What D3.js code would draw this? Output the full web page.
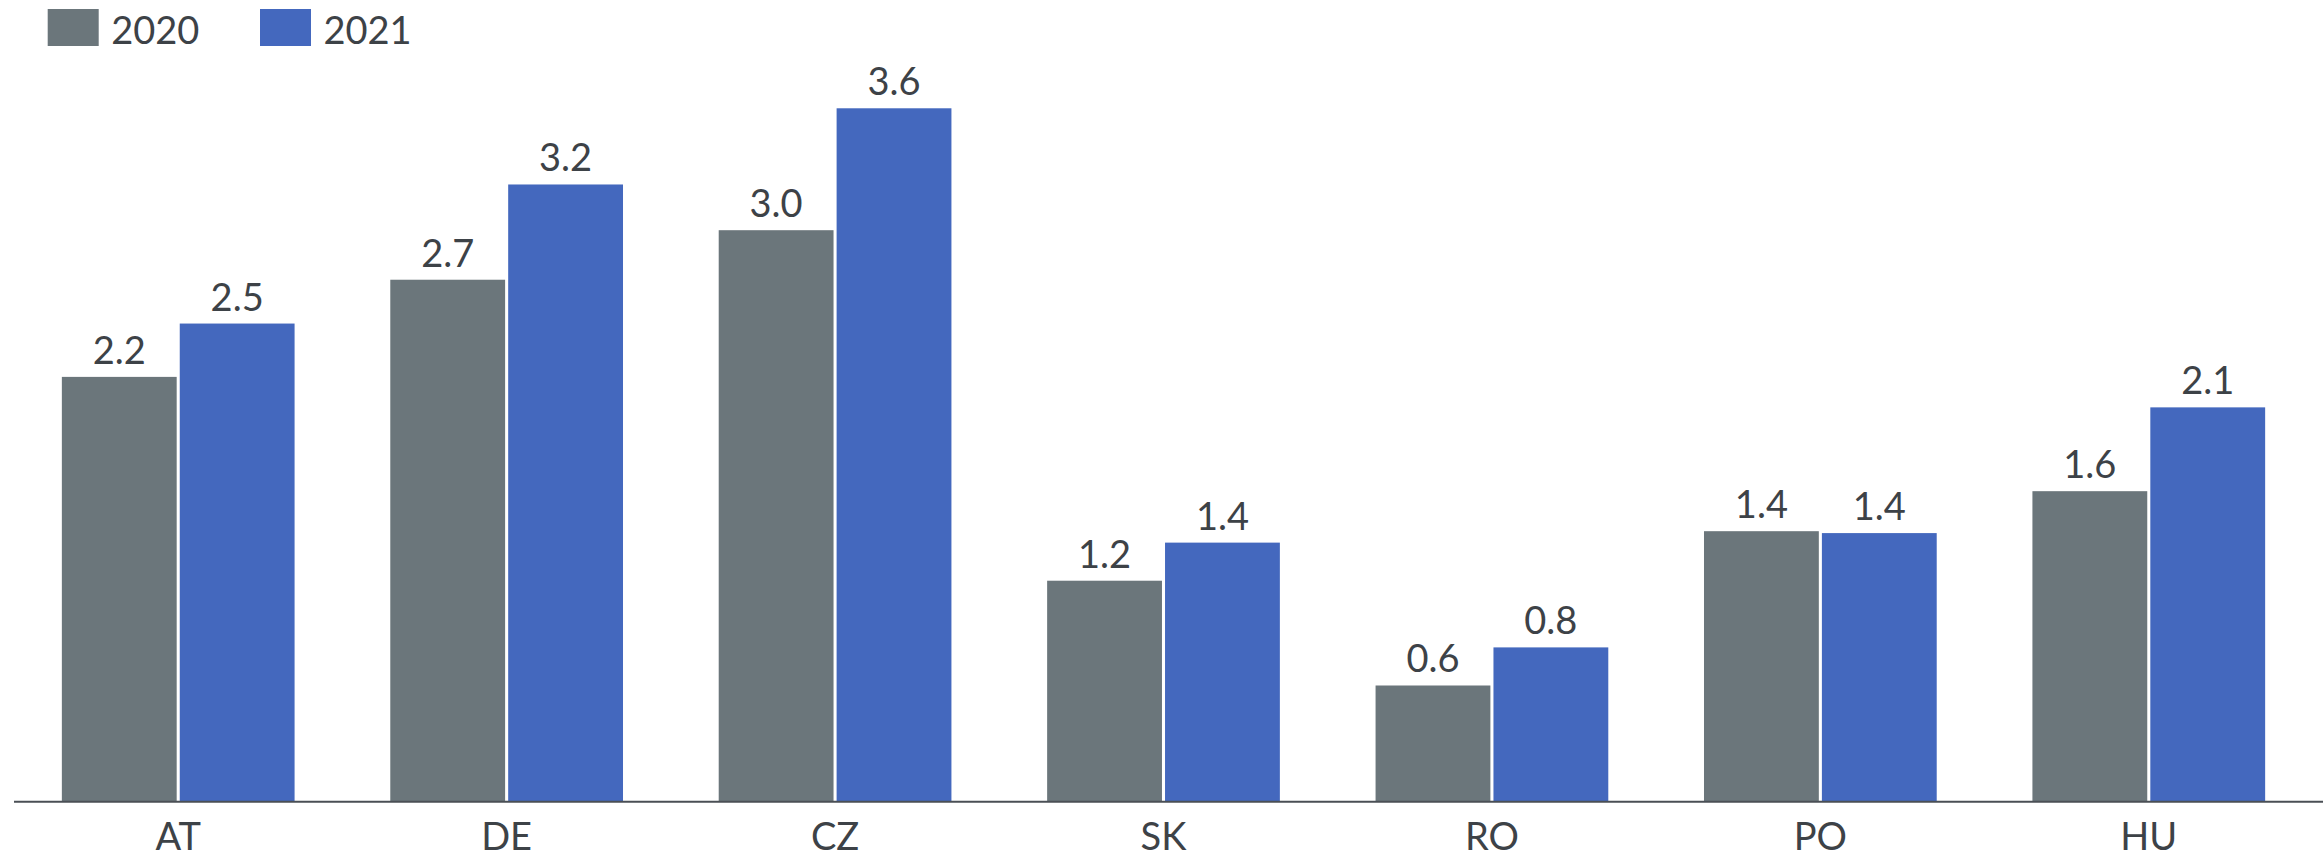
<!DOCTYPE html>
<html>
<head>
<meta charset="utf-8">
<script src="https://cdn.jsdelivr.net/npm/d3@7"></script>
<style>
  html, body { margin: 0; padding: 0; background: #ffffff; }
  svg { display: block; }
  text { font-family: Lato, "Open Sans", sans-serif; fill: #3d4247; }
</style>
</head>
<body>
<svg id="chart" width="2323" height="858"></svg>
<script>
const categories = ["AT", "DE", "CZ", "SK", "RO", "PO", "HU"];
const seriesNames = ["2020", "2021"];
const values2020 = [2.23, 2.74, 3.0, 1.16, 0.61, 1.42, 1.63];
const values2021 = [2.51, 3.24, 3.64, 1.36, 0.81, 1.41, 2.07];
const colors = ["#6b767b", "#4468be"];

const data = categories.map((c, i) => ({
  cat: c,
  vals: [
    { key: seriesNames[0], v: values2020[i] },
    { key: seriesNames[1], v: values2021[i] }
  ]
}));

const W = 2323, H = 858;
const baseY = 801.7;
const unit = 190.5;
const svg = d3.select("#chart");

const x0 = d3.scaleBand().domain(categories).range([14, 2313])
  .paddingInner(0.2914).paddingOuter(0.1457);
const x1 = d3.scaleBand().domain(seriesNames).range([0, x0.bandwidth()])
  .paddingInner(0.026).paddingOuter(0);
const y = d3.scaleLinear().domain([0, 4]).range([baseY, baseY - 4 * unit]);
const color = d3.scaleOrdinal().domain(seriesNames).range(colors);
const fmt = d3.format(".1f");

const g = svg.append("g");
const groups = g.selectAll("g.grp").data(data).join("g")
  .attr("class", "grp")
  .attr("transform", d => `translate(${x0(d.cat)},0)`);

groups.selectAll("rect").data(d => d.vals).join("rect")
  .attr("x", d => x1(d.key))
  .attr("y", d => y(d.v))
  .attr("width", x1.bandwidth())
  .attr("height", d => y(0) - y(d.v))
  .attr("fill", d => color(d.key));

groups.selectAll("text.val").data(d => d.vals).join("text")
  .attr("class", "val")
  .attr("x", d => x1(d.key) + x1.bandwidth() / 2)
  .attr("y", d => y(d.v) - 13)
  .attr("text-anchor", "middle")
  .style("font-size", "38px")
  .text(d => fmt(d.v));

// x axis
const xAxis = d3.axisBottom(x0).tickSize(0).tickPadding(21);
const ax = svg.append("g").attr("transform", `translate(0,${baseY})`).call(xAxis);
ax.select(".domain").attr("stroke", "#4a4f55").attr("stroke-width", 2)
  .attr("d", `M14,0H2323`);
ax.selectAll(".tick text").style("font-size", "38px")
  .style("font-family", "Lato, 'Open Sans', sans-serif").attr("fill", "#3d4247");

// legend
const legendX = [47.7, 260];
const leg = svg.append("g");
const li = leg.selectAll("g").data(seriesNames).join("g")
  .attr("transform", (d, i) => `translate(${legendX[i]},9)`);
li.append("rect").attr("width", 51).attr("height", 37).attr("fill", d => color(d));
li.append("text").attr("x", 63.5).attr("y", 35).style("font-size", "38px").text(d => d);
</script>
</body>
</html>
